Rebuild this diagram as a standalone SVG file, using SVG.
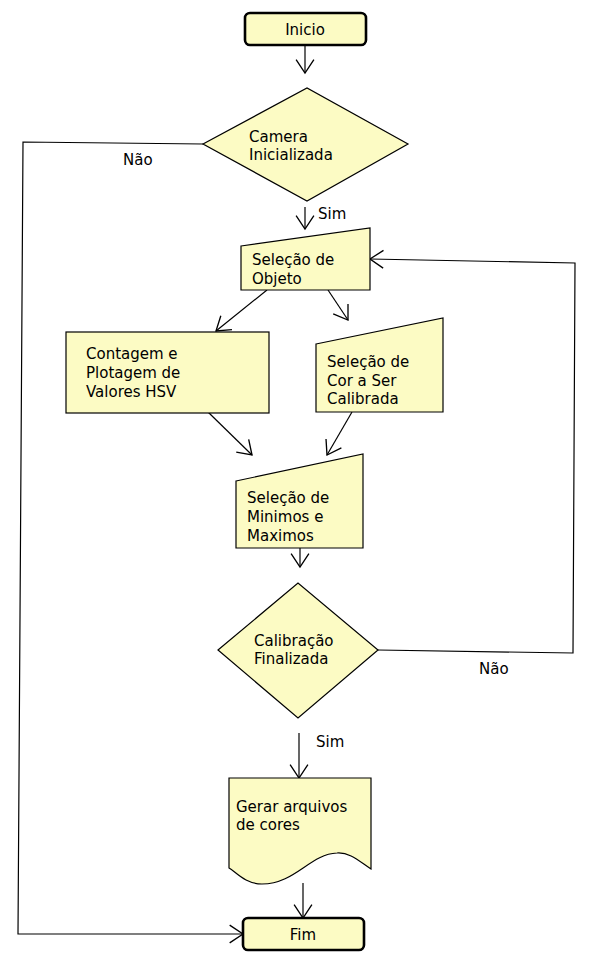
<svg xmlns="http://www.w3.org/2000/svg" width="594" height="964" viewBox="0 0 594 964">
<defs>
<marker id="arr" markerWidth="20" markerHeight="20" viewBox="-13 -9 16 18" refX="0" refY="0" orient="auto" markerUnits="userSpaceOnUse">
<path d="M-12,-8 L0,0 L-12,8" fill="none" stroke="#000" stroke-width="1.2"/>
</marker>
</defs>
<style>
.n{fill:#fcfbc4;stroke:#000;stroke-width:1.2}
.t{stroke:#000;stroke-width:2.6;fill:#fcfbc4}
text{font-family:"DejaVu Sans",sans-serif;font-size:15px;fill:#000}
.c{fill:none;stroke:#000;stroke-width:1.2}
.a{marker-end:url(#arr)}
</style>
<rect width="594" height="964" fill="#fff"/>
<g id="connectors">
<line class="c a" x1="305" y1="46" x2="305" y2="73"/>
<line class="c a" x1="305" y1="207" x2="305" y2="229"/>
<line class="c a" x1="267" y1="290" x2="216" y2="331"/>
<line class="c a" x1="328" y1="290" x2="348" y2="320"/>
<line class="c a" x1="208" y1="412" x2="252" y2="455"/>
<line class="c a" x1="352" y1="412" x2="327" y2="455"/>
<line class="c a" x1="300" y1="548" x2="300" y2="567"/>
<polyline class="c a" points="378,650 573,653 575,263 370,259"/>
<line class="c a" x1="299" y1="733" x2="299" y2="778"/>
<line class="c a" x1="303" y1="883" x2="303" y2="918"/>
<polyline class="c a" points="203,144 23,142 18,934 243,934"/>
<text x="123" y="165">Não</text>
<text x="318" y="219">Sim</text>
<text x="479" y="674">Não</text>
<text x="316" y="747">Sim</text>
</g>
<g id="inicio">
<rect class="t" x="245" y="13" width="121" height="32" rx="5"/>
<text x="305" y="35" text-anchor="middle">Inicio</text>
</g>
<g id="camera">
<polygon class="n" points="203,144 307,88 408,144 307,201"/>
<text x="249" y="142">Camera</text>
<text x="249" y="160">Inicializada</text>
</g>
<g id="selecao-objeto">
<polygon class="n" points="241,246 370,228 370,290 241,290"/>
<text x="252" y="265">Seleção de</text>
<text x="252" y="284">Objeto</text>
</g>
<g id="contagem">
<rect class="n" x="66" y="332" width="203" height="81"/>
<text x="86" y="359">Contagem e</text>
<text x="86" y="378">Plotagem de</text>
<text x="86" y="397">Valores HSV</text>
</g>
<g id="selecao-cor">
<polygon class="n" points="316,344 443,318 443,412 316,412"/>
<text x="327" y="367">Seleção de</text>
<text x="327" y="386">Cor a Ser</text>
<text x="327" y="404">Calibrada</text>
</g>
<g id="selecao-minmax">
<polygon class="n" points="236,481 363,454 363,548 236,548"/>
<text x="247" y="503">Seleção de</text>
<text x="247" y="522">Minimos e</text>
<text x="247" y="541">Maximos</text>
</g>
<g id="calibracao">
<polygon class="n" points="218,650 298,583 378,650 298,718"/>
<text x="254" y="646">Calibração</text>
<text x="254" y="664">Finalizada</text>
</g>
<g id="gerar">
<path class="n" d="M229,778 L371,778 L371,869 C360,862 350,852 337,853 C310,854 295,884 262,884 C245,884 236,872 229,868 Z"/>
<text x="236" y="812">Gerar arquivos</text>
<text x="236" y="830">de cores</text>
</g>
<g id="fim">
<rect class="t" x="243" y="918" width="121" height="32" rx="5"/>
<text x="303" y="940" text-anchor="middle">Fim</text>
</g>
</svg>
